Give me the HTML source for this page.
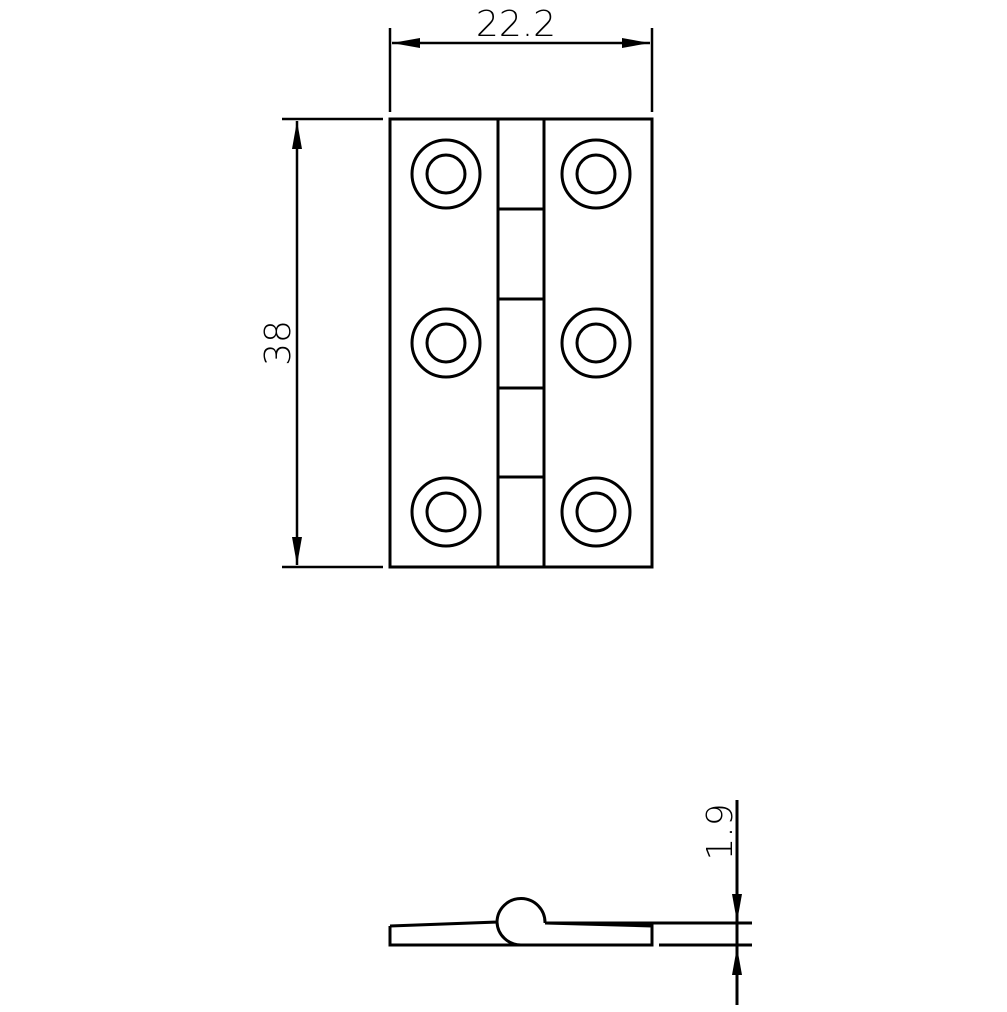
<!DOCTYPE html>
<html><head><style>html,body{margin:0;padding:0;background:#fff}</style></head>
<body>
<svg width="1007" height="1007" viewBox="0 0 1007 1007" xmlns="http://www.w3.org/2000/svg">
<defs>
<marker id="a" viewBox="0 0 28 10" refX="28" refY="5" markerWidth="28" markerHeight="10" markerUnits="userSpaceOnUse" orient="auto-start-reverse"><path d="M0,0 L28,5 L0,10 Z" fill="#000"/></marker>
</defs>
<g fill="none" stroke="#000" stroke-width="3">
<rect x="390" y="119" width="262" height="448"/>
<line x1="498" y1="119" x2="498" y2="567"/>
<line x1="544" y1="119" x2="544" y2="567"/>
<line x1="498" y1="209" x2="544" y2="209"/>
<line x1="498" y1="299" x2="544" y2="299"/>
<line x1="498" y1="388" x2="544" y2="388"/>
<line x1="498" y1="477" x2="544" y2="477"/>
<circle cx="446" cy="174" r="34"/><circle cx="446" cy="174" r="19"/>
<circle cx="596" cy="174" r="34"/><circle cx="596" cy="174" r="19"/>
<circle cx="446" cy="343" r="34"/><circle cx="446" cy="343" r="19"/>
<circle cx="596" cy="343" r="34"/><circle cx="596" cy="343" r="19"/>
<circle cx="446" cy="512" r="34"/><circle cx="446" cy="512" r="19"/>
<circle cx="596" cy="512" r="34"/><circle cx="596" cy="512" r="19"/>
</g>
<g stroke="#000" stroke-width="2.5" fill="none">
<line x1="390" y1="28" x2="390" y2="112"/>
<line x1="652" y1="28" x2="652" y2="112"/>
<line x1="392" y1="43" x2="650" y2="43" marker-start="url(#a)" marker-end="url(#a)"/>
<line x1="282" y1="119" x2="383" y2="119"/>
<line x1="282" y1="567" x2="383" y2="567"/>
<line x1="297" y1="121" x2="297" y2="565" marker-start="url(#a)" marker-end="url(#a)"/>
</g>
<g stroke="#000" stroke-width="3" fill="none">
<path d="M390,926 L390,945 L652,945 L652,926 L545,923"/>
<path d="M390,926 L497,922 A24,24 0 1 1 545,923"/>
<path d="M497,922 A24,24 0 0 0 521,945"/>
<line x1="545" y1="923" x2="752" y2="923"/>
<line x1="659" y1="945" x2="752" y2="945"/>
<line x1="737" y1="800" x2="737" y2="922" marker-end="url(#a)"/>
<line x1="737" y1="1005" x2="737" y2="947" marker-end="url(#a)"/>
<line x1="737" y1="922" x2="737" y2="947"/>
</g>
<g font-family="'DejaVu Sans','Liberation Sans',sans-serif" font-weight="200" font-size="36" fill="#000">
<text x="516" y="36" text-anchor="middle">22.2</text>
<text transform="translate(290,343) rotate(-90)" text-anchor="middle">38</text>
<text transform="translate(732,832) rotate(-90)" text-anchor="middle">1.9</text>
</g>
</svg>
</body></html>
